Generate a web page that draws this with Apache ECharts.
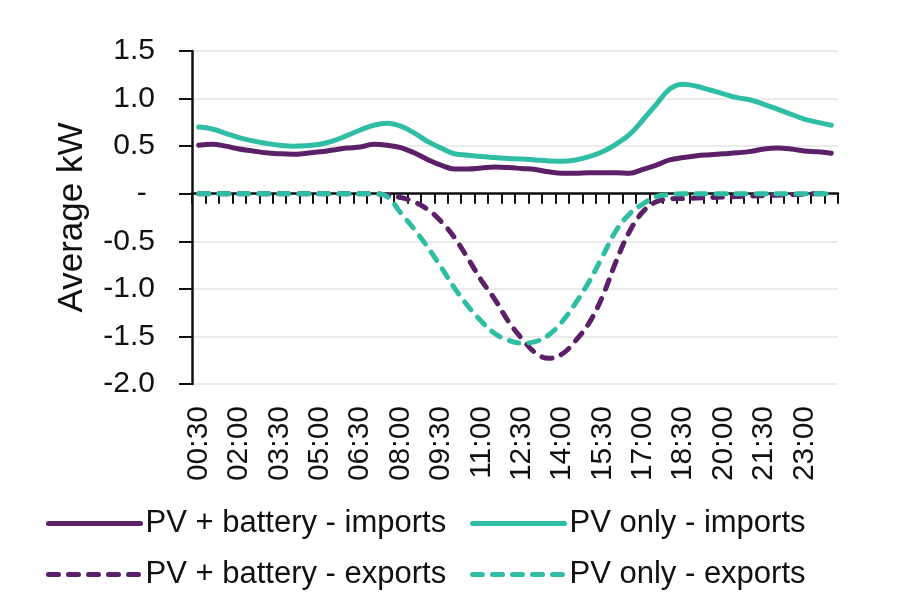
<!DOCTYPE html>
<html>
<head>
<meta charset="utf-8">
<script src="https://cdn.jsdelivr.net/npm/echarts@6/dist/echarts.min.js"></script>
<style>
  html, body { margin: 0; padding: 0; background: #fff; }
  #chart { width: 900px; height: 609px; }
</style>
</head>
<body>
<div id="chart"></div>
<script>
// Half-hour periods, 00:30 .. 24:00
const times = [
  '00:30', '01:00', '01:30', '02:00', '02:30', '03:00', '03:30', '04:00',
  '04:30', '05:00', '05:30', '06:00', '06:30', '07:00', '07:30', '08:00',
  '08:30', '09:00', '09:30', '10:00', '10:30', '11:00', '11:30', '12:00',
  '12:30', '13:00', '13:30', '14:00', '14:30', '15:00', '15:30', '16:00',
  '16:30', '17:00', '17:30', '18:00', '18:30', '19:00', '19:30', '20:00',
  '20:30', '21:00', '21:30', '22:00', '22:30', '23:00', '23:30', '00:00'
];

// Average kW per period
const pvBatteryImports = [
  0.51, 0.52, 0.50, 0.47, 0.45, 0.43, 0.42, 0.415, 0.425, 0.44, 0.46, 0.48,
  0.49, 0.52, 0.51, 0.485, 0.43, 0.36, 0.30, 0.26, 0.26, 0.27, 0.28, 0.275,
  0.265, 0.255, 0.23, 0.215, 0.215, 0.22, 0.22, 0.22, 0.215, 0.255, 0.30, 0.355,
  0.38, 0.40, 0.41, 0.42, 0.43, 0.445, 0.47, 0.48, 0.47, 0.45, 0.44, 0.425
];
const pvOnlyImports = [
  0.70, 0.68, 0.635, 0.59, 0.555, 0.53, 0.51, 0.50, 0.505, 0.52, 0.555, 0.61,
  0.67, 0.72, 0.74, 0.71, 0.64, 0.55, 0.48, 0.42, 0.405, 0.39, 0.38, 0.37,
  0.365, 0.355, 0.345, 0.34, 0.355, 0.39, 0.44, 0.52, 0.62, 0.775, 0.94, 1.10,
  1.15, 1.13, 1.09, 1.05, 1.01, 0.985, 0.94, 0.89, 0.835, 0.785, 0.75, 0.72
];
const pvBatteryExports = [
  0, 0, 0, 0, 0, 0, 0, 0, 0, 0, 0, 0,
  0, 0, -0.015, -0.04, -0.085, -0.165, -0.29, -0.46, -0.68, -0.91, -1.11, -1.34,
  -1.52, -1.67, -1.73, -1.685, -1.545, -1.36, -1.08, -0.715, -0.40, -0.19, -0.085, -0.055,
  -0.05, -0.045, -0.04, -0.035, -0.03, -0.025, -0.02, -0.015, -0.01, -0.005, 0, 0
];
const pvOnlyExports = [
  0, 0, 0, 0, 0, 0, 0, 0, 0, 0, 0, 0,
  0, 0, -0.03, -0.20, -0.37, -0.56, -0.77, -0.99, -1.18, -1.34, -1.47, -1.54,
  -1.57, -1.555, -1.485, -1.345, -1.15, -0.925, -0.66, -0.39, -0.215, -0.108, -0.03, -0.01,
  0, 0, 0, 0, 0, 0, 0, 0, 0, 0, 0, 0
];

const purple = '#5b2067';
const teal = '#2fbea4';
const font = "'Liberation Sans', Arial, sans-serif";
const dash = [10, 10];

var chartDom = document.getElementById('chart');
var myChart = echarts.init(chartDom);
var option;

function legendAt(name, left, top) {
  return {
    data: [name],
    left: left,
    top: top,
    padding: 0,
    orient: 'horizontal',
    itemWidth: 92,
    itemHeight: 14,
    selectedMode: false,
    itemStyle: { opacity: 0 },
    lineStyle: { width: 5, cap: 'round' },
    textStyle: { fontFamily: font, fontSize: 31, color: '#111' }
  };
}

option = {
  backgroundColor: '#fff',
  animation: false,
  legend: [
    legendAt('PV + battery - imports', 46, 508),
    legendAt('PV only - imports', 470, 508),
    legendAt('PV + battery - exports', 46, 559),
    legendAt('PV only - exports', 470, 559)
  ],
  grid: { left: 192, right: 62, top: 51, bottom: 225 },
  xAxis: [
    {
      // zero line with ticks
      type: 'category',
      data: times,
      position: 'top',
      boundaryGap: true,
      axisLine: { onZero: true, lineStyle: { color: '#111', width: 2.5 } },
      axisTick: { show: true, inside: true, length: 10, interval: 0, lineStyle: { color: '#111', width: 2 } },
      axisLabel: { show: false },
      splitLine: { show: false }
    },
    {
      // labels at the bottom
      type: 'category',
      data: times,
      position: 'bottom',
      boundaryGap: true,
      axisLine: { show: false, onZero: false },
      axisTick: { show: false },
      axisLabel: {
        interval: 2,
        rotate: 90,
        margin: 22,
        fontFamily: font,
        fontSize: 30,
        color: '#111'
      },
      splitLine: { show: false }
    }
  ],
  yAxis: {
    type: 'value',
    min: -2,
    max: 1.5,
    interval: 0.5,
    name: 'Average kW',
    nameLocation: 'middle',
    nameRotate: 90,
    nameGap: 102,
    nameTextStyle: { fontFamily: font, fontSize: 35, color: '#111' },
    axisLine: { show: true, onZero: false, lineStyle: { color: '#111', width: 2.5 } },
    axisTick: { show: true, length: 13, lineStyle: { color: '#111', width: 2 } },
    axisLabel: {
      margin: 37,
      fontFamily: font,
      fontSize: 30,
      color: '#111',
      formatter: function (v) {
        return v === 0 ? '- ' : v.toFixed(1);
      }
    },
    splitLine: { show: true, lineStyle: { color: '#e4e4e4', width: 1.5 } }
  },
  series: [
    {
      name: 'PV + battery - imports',
      type: 'line',
      xAxisIndex: 0,
      smooth: 0.4,
      symbol: 'none',
      lineStyle: { color: purple, width: 5, cap: 'round' },
      itemStyle: { color: purple },
      data: pvBatteryImports
    },
    {
      name: 'PV only - imports',
      type: 'line',
      xAxisIndex: 0,
      smooth: 0.4,
      symbol: 'none',
      lineStyle: { color: teal, width: 5, cap: 'round' },
      itemStyle: { color: teal },
      data: pvOnlyImports
    },
    {
      name: 'PV + battery - exports',
      type: 'line',
      xAxisIndex: 0,
      smooth: 0.4,
      symbol: 'none',
      lineStyle: { color: purple, width: 5, type: dash, cap: 'round' },
      itemStyle: { color: purple },
      data: pvBatteryExports
    },
    {
      name: 'PV only - exports',
      type: 'line',
      xAxisIndex: 0,
      smooth: 0.4,
      symbol: 'none',
      lineStyle: { color: teal, width: 5, type: dash, cap: 'round' },
      itemStyle: { color: teal },
      data: pvOnlyExports
    }
  ]
};

option && myChart.setOption(option);
</script>
</body>
</html>
